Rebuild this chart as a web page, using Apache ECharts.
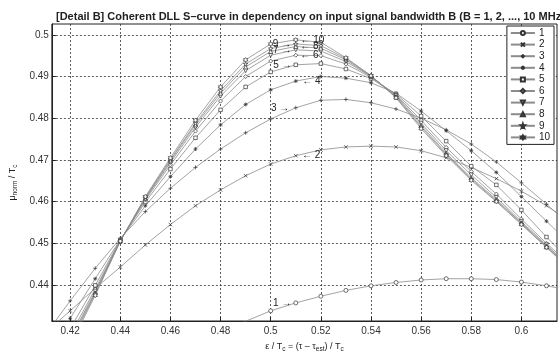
<!DOCTYPE html>
<html>
<head>
<meta charset="utf-8">
<script src="https://cdn.jsdelivr.net/npm/echarts@6/dist/echarts.min.js"></script>
<style>
  html,body{margin:0;padding:0;background:#fff;}
  #chart{width:560px;height:358px;}
</style>
</head>
<body>
<div id="chart"></div>
<script>
  // normalised delay error eps/Tc (x)
  var eps = [0.41,0.42,0.43,0.44,0.45,0.46,0.47,0.48,0.49,0.50,0.51,0.52,0.53,0.54,0.55,0.56,0.57,0.58,0.59,0.60,0.61,0.62];
  // mu_norm/Tc for B = 1..10 MHz
  var b1  = [0.4000,0.4050,0.4100,0.4145,0.4185,0.4222,0.4255,0.4286,0.4313,0.4338,0.4357,0.4373,0.4387,0.4398,0.4406,0.4412,0.4415,0.4415,0.4413,0.4407,0.4398,0.4387];
  var b2  = [0.4285,0.4338,0.4392,0.4443,0.4496,0.4545,0.4590,0.4628,0.4662,0.4690,0.4710,0.4724,0.4731,0.4733,0.4731,0.4722,0.4705,0.4682,0.4655,0.4625,0.4590,0.4550];
  var b3  = [0.4280,0.4362,0.4440,0.4512,0.4576,0.4632,0.4682,0.4726,0.4765,0.4798,0.4825,0.4843,0.4845,0.4837,0.4822,0.4800,0.4772,0.4738,0.4695,0.4645,0.4594,0.4540];
  var b4  = [0.4225,0.4320,0.4415,0.4509,0.4590,0.4660,0.4726,0.4784,0.4833,0.4868,0.4889,0.4900,0.4896,0.4885,0.4860,0.4817,0.4770,0.4722,0.4670,0.4612,0.4553,0.4495];
  var b5  = [0.4192,0.4295,0.4399,0.4508,0.4599,0.4678,0.4753,0.4820,0.4875,0.4911,0.4928,0.4931,0.4918,0.4895,0.4858,0.4805,0.4745,0.4685,0.4640,0.4580,0.4515,0.4455];
  var b6  = [0.4172,0.4280,0.4390,0.4507,0.4604,0.4688,0.4769,0.4841,0.4900,0.4937,0.4951,0.4950,0.4930,0.4898,0.4856,0.4795,0.4730,0.4672,0.4618,0.4558,0.4500,0.4445];
  var b7  = [0.4161,0.4271,0.4385,0.4506,0.4607,0.4694,0.4778,0.4853,0.4914,0.4951,0.4964,0.4961,0.4936,0.4900,0.4854,0.4788,0.4722,0.4664,0.4610,0.4552,0.4496,0.4440];
  var b8  = [0.4154,0.4266,0.4381,0.4506,0.4608,0.4698,0.4784,0.4860,0.4923,0.4960,0.4972,0.4968,0.4940,0.4901,0.4852,0.4783,0.4716,0.4657,0.4605,0.4549,0.4493,0.4437];
  var b9  = [0.4148,0.4261,0.4379,0.4505,0.4610,0.4701,0.4788,0.4866,0.4930,0.4967,0.4978,0.4974,0.4943,0.4902,0.4850,0.4779,0.4713,0.4654,0.4602,0.4547,0.4491,0.4436];
  var b10 = [0.4140,0.4255,0.4375,0.4505,0.4612,0.4705,0.4795,0.4875,0.4940,0.4978,0.4988,0.4982,0.4945,0.4902,0.4849,0.4775,0.4710,0.4651,0.4600,0.4545,0.4490,0.4435];
  var curves = [b1,b2,b3,b4,b5,b6,b7,b8,b9,b10];
  var names = ['1','2','3','4','5','6','7','8','9','10'];
  var xTicks = [0.42,0.44,0.46,0.48,0.5,0.52,0.54,0.56,0.58,0.6];
  var yTicks = [0.44,0.45,0.46,0.47,0.48,0.49,0.5];
  var labelIdx = 10; // curve labels sit at eps = 0.51

  // matlab style markers: o x + * s d v ^ p h
  var symbols = [
    'path://M0,-5A5,5,0,1,1,0,5A5,5,0,1,1,0,-5Z',
    'path://M-5,-5L5,5M-5,5L5,-5',
    'path://M0,-5L0,5M-5,0L5,0',
    'path://M0,-5L0,5M-5,0L5,0M-3.5,-3.5L3.5,3.5M-3.5,3.5L3.5,-3.5',
    'path://M-5,-5L5,-5L5,5L-5,5Z',
    'path://M0,-5L5,0L0,5L-5,0Z',
    'path://M-5,-4L5,-4L0,5Z',
    'path://M0,-5L5,4L-5,4Z',
    'path://M0,-5L1.2,-1.6L4.8,-1.6L1.9,0.6L2.9,4L0,2L-2.9,4L-1.9,0.6L-4.8,-1.6L-1.2,-1.6Z',
    'path://M0,-5L1.4,-2.5L4.3,-2.5L2.9,0L4.3,2.5L1.4,2.5L0,5L-1.4,2.5L-4.3,2.5L-2.9,0L-4.3,-2.5L-1.4,-2.5Z'
  ];
  var sizes = [4,3.5,4,4,3.5,4,4,4,4.5,4.5];
  var fills = ['#fff','none','none','none','#fff','#fff','#fff','#fff','#fff','#fff'];

  var font = 'Liberation Sans, Arial, sans-serif';
  var series = curves.map(function(c, k){
    var odd = (k % 2) === 0;
    return {
      name: names[k],
      type: 'line',
      symbol: symbols[k],
      symbolSize: sizes[k],
      showAllSymbol: true,
      clip: true,
      lineStyle: {color: '#8c8c8c', width: 0.8, type: 'solid'},
      itemStyle: {color: fills[k], borderColor: '#333', borderWidth: 0.7},
      emphasis: {disabled: true},
      data: eps.map(function(x, i){
        var item = {value: [x, c[i]]};
        if (i === labelIdx) {
          item.label = {
            show: true,
            position: odd ? 'left' : 'right',
            distance: 2,
            formatter: odd ? names[k] + ' \u2192' : '\u2190 ' + names[k],
            fontFamily: font, fontSize: 10, color: '#222'
          };
        }
        return item;
      })
    };
  });

  var myChart = echarts.init(document.getElementById('chart'));
  var option = {
    backgroundColor: '#fff',
    animation: false,
    title: {
      text: '[Detail B] Coherent DLL S\u2013curve in dependency on input signal bandwidth B (B = 1, 2, ..., 10 MHz)',
      left: 51, top: 6,
      textStyle: {fontFamily: font, fontSize: 11, fontWeight: 'bold', color: '#222'}
    },
    legend: {
      data: names,
      orient: 'vertical',
      right: 6, top: 26,
      itemWidth: 24, itemHeight: 5, itemGap: 1.6,
      padding: [2, 4, 2, 3],
      backgroundColor: '#fff',
      borderColor: '#222', borderWidth: 1,
      textStyle: {fontFamily: font, fontSize: 10, color: '#222', lineHeight: 10, padding: [0, 0, 0, -1]}
    },
    grid: {left: 47, right: 3, top: 24, bottom: 31, show: true, borderColor: '#222', borderWidth: 1, backgroundColor: '#fff'},
    xAxis: {
      type: 'value',
      min: 0.4127, max: 0.6142,
      name: '\u03b5 / T{s|c} = (\u03c4 \u2013 \u03c4{s|est}) / T{s|c}',
      nameLocation: 'middle', nameGap: 20,
      nameTextStyle: {fontFamily: font, fontSize: 9, color: '#222', rich: {s: {fontSize: 6.5, padding: [5,0,0,0]}}},
      axisLine: {lineStyle: {color: '#222'}},
      axisTick: {inside: true, length: 4, customValues: xTicks, lineStyle: {color: '#222'}},
      axisLabel: {customValues: xTicks, fontFamily: font, fontSize: 10, color: '#333', margin: 5,
        formatter: function(v){ return String(v); }},
      splitLine: {show: true, lineStyle: {color: '#333', type: [2, 2], width: 0.8}}
    },
    yAxis: {
      type: 'value',
      min: 0.43136, max: 0.50259,
      name: '\u03bc{s|norm} / T{s|c}',
      nameLocation: 'middle', nameGap: 28, nameRotate: 90,
      nameTextStyle: {fontFamily: font, fontSize: 9, color: '#222', padding: [0, 0, 0, -20], rich: {s: {fontSize: 6.5, padding: [5,0,0,0]}}},
      axisLine: {show: true, lineStyle: {color: '#222'}},
      axisTick: {show: true, inside: true, length: 4, customValues: yTicks, lineStyle: {color: '#222'}},
      axisLabel: {customValues: yTicks, fontFamily: font, fontSize: 10, color: '#333', margin: 3,
        formatter: function(v){ return String(v); }},
      splitLine: {show: true, lineStyle: {color: '#333', type: [2, 2], width: 0.8}}
    },
    series: series
  };
  myChart.setOption(option);
  window.addEventListener('resize', function(){ myChart.resize(); });
</script>
</body>
</html>
